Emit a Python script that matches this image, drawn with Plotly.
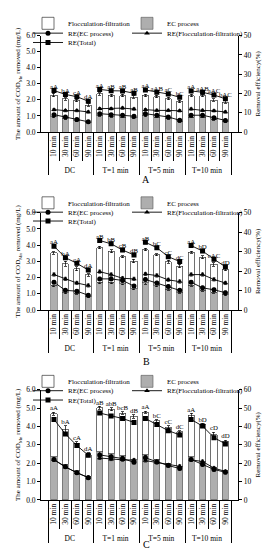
import plotly.graph_objects as go
from plotly.subplots import make_subplots

groups = ["DC"] * 4 + ["T=1 min"] * 4 + ["T=5 min"] * 4 + ["T=10 min"] * 4
times = ["10 min", "30 min", "60 min", "90 min"] * 4

# ---------------- Panel A ----------------
ec_A = [0.96, 0.84, 0.70, 0.58, 1.02, 0.96, 0.93, 0.88, 1.02, 0.93, 0.84, 0.66, 0.93, 0.93, 0.79, 0.65]
ff_A = [1.34, 1.22, 1.27, 1.10, 1.35, 1.32, 1.34, 1.29, 1.26, 1.27, 1.24, 1.24, 1.34, 1.33, 1.19, 1.21]
ec_err_A = [0.06, 0.05, 0.05, 0.05, 0.05, 0.05, 0.05, 0.05, 0.06, 0.05, 0.05, 0.05, 0.05, 0.05, 0.05, 0.05]
tot_err_A = [0.10, 0.08, 0.08, 0.08, 0.08, 0.08, 0.08, 0.08, 0.08, 0.08, 0.08, 0.08, 0.08, 0.08, 0.08, 0.08]
re_ec_A = [9.0, 7.8, 6.5, 5.3, 9.5, 9.0, 8.7, 8.2, 9.5, 8.7, 7.8, 6.1, 8.7, 8.7, 7.4, 6.0]
re_ff_A = [11.6, 11.1, 11.1, 10.4, 12.1, 12.1, 12.4, 11.9, 11.6, 11.2, 11.2, 11.0, 11.9, 11.2, 11.0, 10.4]
re_tot_A = [21.5, 19.5, 18.3, 16.0, 22.1, 21.4, 21.3, 20.1, 21.8, 20.6, 19.7, 18.0, 21.3, 20.6, 19.2, 17.2]
re_err_A = [0.6] * 16
letters_A = ["aA", "bA", "cA", "dA", "aA", "aB", "aB", "aB", "aA", "aAB", "aC", "bC", "aA", "aAB", "aAC", "bAC"]

# ---------------- Panel B ----------------
ec_B = [1.53, 1.08, 1.04, 0.81, 1.71, 1.71, 1.63, 1.32, 1.68, 1.49, 1.29, 1.08, 1.53, 1.22, 1.11, 0.95]
ff_B = [1.99, 1.78, 1.51, 1.35, 2.14, 1.91, 1.65, 1.70, 2.04, 1.93, 1.68, 1.63, 2.02, 2.03, 1.70, 1.56]
ec_err_B = [0.08, 0.07, 0.06, 0.06, 0.08, 0.08, 0.07, 0.07, 0.08, 0.07, 0.07, 0.06, 0.07, 0.06, 0.06, 0.06]
tot_err_B = [0.08, 0.15, 0.12, 0.08, 0.08, 0.08, 0.06, 0.10, 0.08, 0.06, 0.10, 0.10, 0.06, 0.08, 0.10, 0.10]
re_ec_B = [14.3, 10.1, 9.7, 7.6, 16.0, 16.0, 15.2, 12.3, 15.7, 13.9, 12.1, 10.1, 14.3, 11.4, 10.4, 8.9]
re_ff_B = [18.2, 16.0, 13.9, 12.6, 19.7, 18.2, 16.3, 16.0, 18.5, 17.7, 15.5, 14.6, 18.2, 18.2, 15.7, 13.9]
re_tot_B = [32.8, 26.9, 24.0, 20.5, 35.7, 34.0, 30.8, 28.3, 34.8, 32.0, 27.4, 24.9, 33.1, 30.3, 26.1, 22.2]
re_err_B = [0.8] * 16
letters_B = ["aA", "bA", "cA", "dA", "aB", "bB", "cB", "dB", "aB", "bC", "cC", "dC", "aA", "bD", "cAC", "dD"]

# ---------------- Panel C ----------------
ec_C = [2.35, 1.93, 1.58, 1.29, 2.62, 2.51, 2.41, 2.19, 2.45, 2.21, 2.00, 1.83, 2.35, 2.07, 1.78, 1.61]
ff_C = [2.35, 1.91, 1.51, 1.17, 2.40, 2.42, 2.32, 2.36, 2.33, 2.09, 1.95, 1.88, 2.26, 2.04, 1.76, 1.57]
ec_err_C = [0.08, 0.06, 0.06, 0.10, 0.10, 0.08, 0.06, 0.08, 0.06, 0.06, 0.06, 0.06, 0.08, 0.06, 0.08, 0.06]
tot_err_C = [0.08, 0.20, 0.08, 0.10, 0.08, 0.08, 0.06, 0.10, 0.06, 0.06, 0.08, 0.06, 0.10, 0.06, 0.15, 0.08]
re_ec_C = [22.0, 18.0, 14.8, 12.1, 24.5, 23.5, 22.5, 20.5, 22.9, 20.7, 18.7, 17.1, 22.0, 19.3, 16.6, 15.0]
re_ff_C = [21.8, 17.9, 14.8, 12.2, 22.8, 22.2, 21.8, 21.7, 21.4, 20.4, 19.0, 18.3, 21.8, 20.9, 17.3, 15.5]
re_tot_C = [43.8, 35.9, 29.6, 24.3, 47.3, 45.7, 44.3, 42.2, 44.3, 41.1, 37.7, 35.4, 43.8, 40.2, 33.9, 30.5]
re_err_C = [0.8] * 16
letters_C = ["aA", "bA", "cA", "dA", "aB", "abB", "bcB", "dB", "aA", "bC", "cC", "dC", "aA", "bD", "cD", "dD"]

panels = [
    dict(ec=ec_A, ff=ff_A, ec_err=ec_err_A, tot_err=tot_err_A, re_ec=re_ec_A, re_ff=re_ff_A,
         re_tot=re_tot_A, re_err=re_err_A, letters=letters_A, rmax=50, label="A"),
    dict(ec=ec_B, ff=ff_B, ec_err=ec_err_B, tot_err=tot_err_B, re_ec=re_ec_B, re_ff=re_ff_B,
         re_tot=re_tot_B, re_err=re_err_B, letters=letters_B, rmax=50, label="B"),
    dict(ec=ec_C, ff=ff_C, ec_err=ec_err_C, tot_err=tot_err_C, re_ec=re_ec_C, re_ff=re_ff_C,
         re_tot=re_tot_C, re_err=re_err_C, letters=letters_C, rmax=60, label="C"),
]

W, H = 272, 550
FONT = "Liberation Serif"
plot_px = [(24, 122), (204, 303), (384, 496)]
legend_rows_px = [(11.5, 21.5, 31), (194, 203.5, 212.5), (375.5, 385, 394.5)]
label_px = [170, 355, 541]
L, R = 33, 29
PW = W - L - R
TEXT_OFF = 38          # px from legend box left edge to start of its text
COL_TEXT_PX = (58, 157)
TICK_FONT = dict(size=7.5, family=FONT, color="black")
TITLE_FONT = dict(size=7, family=FONT, color="black")

fig = make_subplots(rows=3, cols=1, specs=[[{"secondary_y": True}]] * 3)
x_all = [groups, times]


def legend_name(n):
    return "legend" if n == 1 else f"legend{n}"


def add_legend(n, col, row_y):
    fig.layout[legend_name(n)] = dict(
        x=(COL_TEXT_PX[col] - TEXT_OFF - L) / PW, xanchor="left",
        y=1 - row_y / H, yanchor="middle", yref="paper",
        bgcolor="rgba(0,0,0,0)", borderwidth=0,
        font=dict(size=7, family=FONT, color="black"))


for i, p in enumerate(panels):
    row = i + 1
    base = 5 * i
    rows_px = legend_rows_px[i]
    slots = {"ff": (0, 0), "ec": (0, 1), "re_ec": (1, 0), "re_ff": (1, 1), "re_tot": (2, 0)}
    lnum = {}
    for k, key in enumerate(["ff", "ec", "re_ec", "re_ff", "re_tot"]):
        n = base + k + 1
        lnum[key] = legend_name(n)
        r_, c_ = slots[key]
        add_legend(n, c_, rows_px[r_])

    tot = [a + b for a, b in zip(p["ec"], p["ff"])]
    fig.add_trace(go.Bar(x=x_all, y=p["ec"], name="EC process", legend=lnum["ec"],
                         marker=dict(color="#b4b4b4", line=dict(color="#555555", width=0.6),
                                     pattern=dict(shape="|", fgcolor="#8a8a8a", size=2, solidity=0.3)),
                         error_y=dict(type="data", array=p["ec_err"], color="black", thickness=0.7, width=1.5)),
                  row=row, col=1, secondary_y=False)
    fig.add_trace(go.Bar(x=x_all, y=p["ff"], name="Flocculation-filtration", legend=lnum["ff"],
                         marker=dict(color="white", line=dict(color="#333333", width=0.7)),
                         error_y=dict(type="data", array=p["tot_err"], color="black", thickness=0.7, width=1.5)),
                  row=row, col=1, secondary_y=False)

    line_specs = [("RE(EC process)", "re_ec", "circle"),
                  ("RE(Flocculation-filtration)", "re_ff", "triangle-up"),
                  ("RE(Total)", "re_tot", "square")]
    for name, key, sym in line_specs:
        vals = p[key]
        for g in range(4):
            idx = list(range(4 * g, 4 * g + 4))
            fig.add_trace(go.Scatter(
                x=[[groups[j] for j in idx], [times[j] for j in idx]],
                y=[vals[j] for j in idx], name=name, mode="lines+markers",
                legend=lnum[key], legendgroup=f"{key}{i}", showlegend=(g == 0),
                line=dict(color="black", width=0.9),
                marker=dict(symbol=sym, size=5, color="black"),
                error_y=dict(type="data", array=[p["re_err"][j] for j in idx],
                             color="black", thickness=0.7, width=1.5)),
                row=row, col=1, secondary_y=True)

    ratio = p["rmax"] / 6.0
    ytxt = [max(rt, (t + e) * ratio) for rt, t, e in zip(p["re_tot"], tot, p["tot_err"])]
    fig.add_trace(go.Scatter(x=x_all, y=ytxt, mode="text", text=p["letters"], textposition="top center",
                             textfont=dict(size=6.8, color="black", family=FONT), showlegend=False,
                             hoverinfo="skip", cliponaxis=False),
                  row=row, col=1, secondary_y=True)

    top, bot = plot_px[i]
    dom = [1 - bot / H, 1 - top / H]
    yname = "yaxis" if i == 0 else f"yaxis{2 * i + 1}"
    y2name = f"yaxis{2 * i + 2}"
    xname = "xaxis" if i == 0 else f"xaxis{i + 1}"
    fig.layout[yname].update(domain=dom, range=[0, 6], dtick=1, tickformat=".1f",
                             showline=True, linecolor="black", linewidth=0.8, ticks="outside",
                             ticklen=3, tickcolor="black", showgrid=False, zeroline=False,
                             tickfont=TICK_FONT,
                             title=dict(text="The amount of COD<sub>Mn</sub> removed (mg/L)",
                                        font=TITLE_FONT, standoff=4))
    fig.layout[y2name].update(range=[0, p["rmax"]], dtick=10, showline=True, linecolor="black",
                              linewidth=0.8, ticks="outside", ticklen=3, tickcolor="black",
                              showgrid=False, zeroline=False,
                              tickfont=TICK_FONT,
                              title=dict(text="Removal efficiency(%)", font=TITLE_FONT, standoff=4))
    fig.layout[xname].update(type="multicategory", showline=True, linecolor="black", linewidth=0.8,
                             ticks="outside", tickson="boundaries", ticklen=28, tickcolor="black",
                             tickwidth=0.8, tickangle=-90, showdividers=True, dividercolor="black",
                             dividerwidth=0.8, showgrid=False,
                             tickfont=TICK_FONT)

    fig.add_annotation(text=p["label"], xref="paper", yref="paper", x=0.5,
                       y=1 - label_px[i] / H, showarrow=False, yanchor="middle",
                       font=dict(size=10, family=FONT, color="black"))

fig.update_layout(width=W, height=H, margin=dict(l=L, r=R, t=0, b=0),
                  barmode="stack", bargap=0.47, plot_bgcolor="white", paper_bgcolor="white",
                  font=dict(family=FONT, size=8, color="black"))

fig.write_html("out.html")
